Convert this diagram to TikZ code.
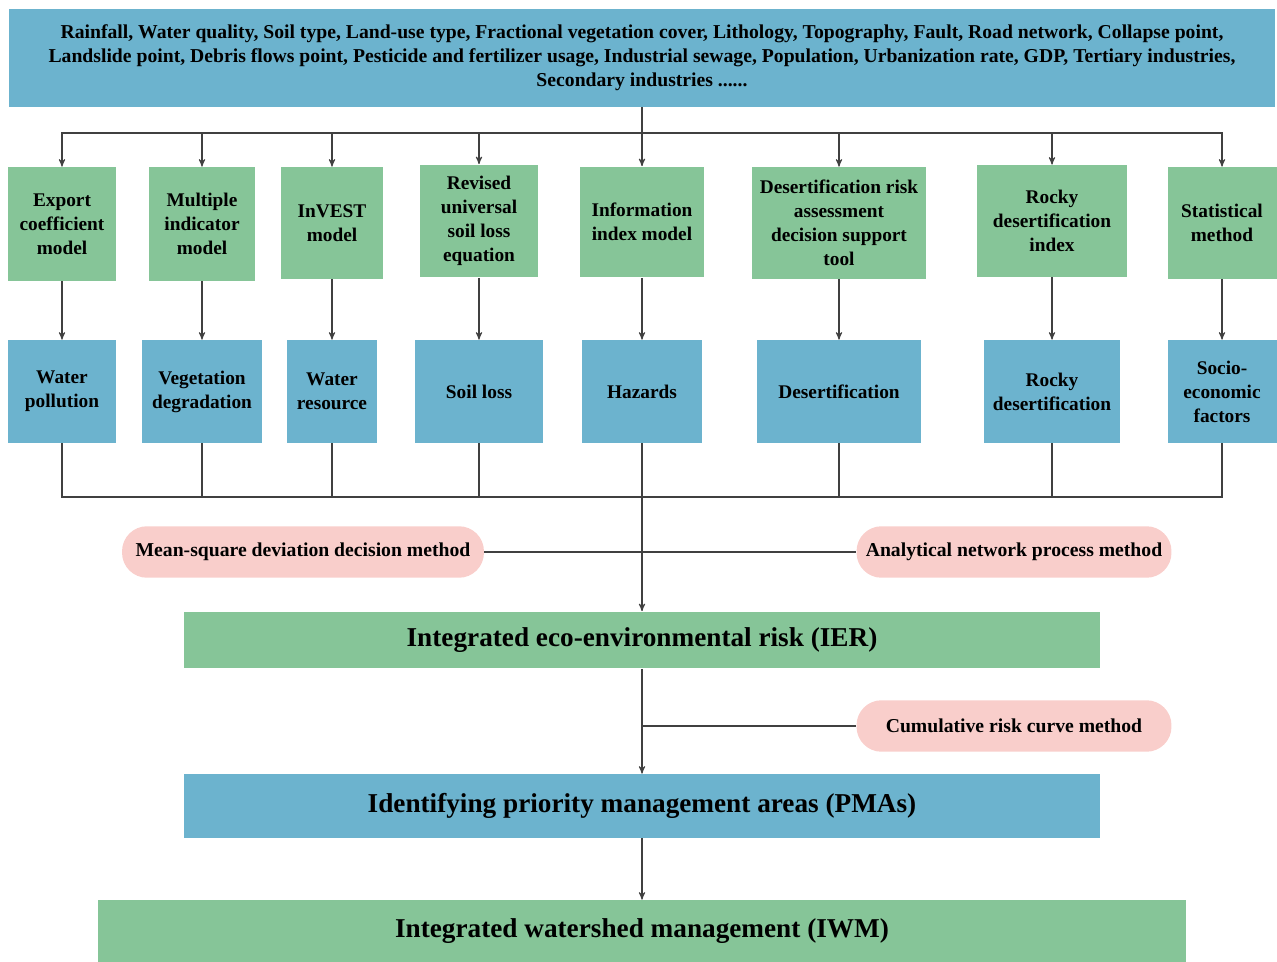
\documentclass[tikz,border=0pt]{standalone}
\usepackage{fontspec}
\setmainfont{Liberation Serif}
\usetikzlibrary{arrows,shapes,positioning,calc}
\definecolor{boxblue}{RGB}{108,179,206}
\definecolor{boxgreen}{RGB}{134,197,152}
\definecolor{boxpink}{RGB}{249,206,203}
\tikzset{
    model/.style={
        rectangle,
        fill=boxgreen,
        align=center,
        inner sep=1pt,
        font=\bfseries\fontsize{11}{13.6}\selectfont,
    },
    risk/.style={
        rectangle,
        fill=boxblue,
        align=center,
        inner sep=1pt,
        minimum height=2.06cm,
        font=\bfseries\fontsize{11}{13.6}\selectfont,
    },
    method/.style={
        rectangle,
        rounded corners=0.5cm,
        fill=boxpink,
        align=center,
        minimum height=1.03cm,
        font=\bfseries\fontsize{11.2}{13}\selectfont,
    },
    stage/.style={
        rectangle,
        align=center,
        font=\bfseries\fontsize{15.5}{18}\selectfont,
    },
    link/.style={
        draw=black!75,
        line width=0.6pt,
    },
}

\begin{document}
\begin{tikzpicture}[x=0.02cm,y=-0.02cm,>=stealth']
    \useasboundingbox (0,0) rectangle (1277,962);
    % input data
    \node [rectangle, fill=boxblue, align=center, minimum width=25.34cm, minimum height=1.96cm,
        font=\bfseries\fontsize{11.2}{13.6}\selectfont] (data) at (642,58)
        {Rainfall, Water quality, Soil type, Land-use type, Fractional vegetation cover, Lithology, Topography, Fault, Road network, Collapse point,\\
         Landslide point, Debris flows point, Pesticide and fertilizer usage, Industrial sewage, Population, Urbanization rate, GDP, Tertiary industries,\\
         Secondary industries ......};
    % models
    \node [model, minimum width=2.16cm, minimum height=2.28cm] (m1) at (62,224) {Export\\coefficient\\model};
    \node [model, minimum width=2.14cm, minimum height=2.28cm] (m2) at (202,224) {Multiple\\indicator\\model};
    \node [model, minimum width=2.04cm, minimum height=2.24cm] (m3) at (332,223) {InVEST\\model};
    \node [model, minimum width=2.36cm, minimum height=2.26cm] (m4) at (479,221) {Revised\\universal\\soil loss\\equation};
    \node [model, minimum width=2.50cm, minimum height=2.22cm] (m5) at (642,222) {Information\\index model};
    \node [model, minimum width=3.50cm, minimum height=2.24cm] (m6) at (839,223) {Desertification risk\\assessment\\decision support\\tool};
    \node [model, minimum width=3.00cm, minimum height=2.24cm] (m7) at (1052,221) {Rocky\\desertification\\index};
    \node [model, minimum width=2.18cm, minimum height=2.24cm] (m8) at (1222,223) {Statistical\\method};
    % risks
    \node [risk, minimum width=2.16cm] (r1) at (62,391.5) {Water\\pollution};
    \node [risk, minimum width=2.40cm] (r2) at (202,391.5) {Vegetation\\degradation};
    \node [risk, minimum width=1.80cm] (r3) at (332,391.5) {Water\\resource};
    \node [risk, minimum width=2.58cm] (r4) at (479,391.5) {Soil loss};
    \node [risk, minimum width=2.40cm] (r5) at (642,391.5) {Hazards};
    \node [risk, minimum width=3.28cm] (r6) at (839,391.5) {Desertification};
    \node [risk, minimum width=2.72cm] (r7) at (1052,391.5) {Rocky\\desertification};
    \node [risk, minimum width=2.18cm] (r8) at (1222,391.5) {Socio-\\economic\\factors};
    % weighting methods
    \node [method, minimum width=7.24cm] (msd) at (303,552) {Mean-square deviation decision method};
    \node [method, minimum width=6.30cm] (anp) at (1014,552) {Analytical network process method};
    \node [method, minimum width=6.30cm] (crc) at (1014,726) {Cumulative risk curve method};
    % results
    \node [stage, fill=boxgreen, minimum width=18.32cm, minimum height=1.14cm] (ier) at (642,640) {Integrated eco-environmental risk (IER)};
    \node [stage, fill=boxblue, minimum width=18.32cm, minimum height=1.28cm] (pma) at (642,806) {Identifying priority management areas (PMAs)};
    \node [stage, fill=boxgreen, minimum width=21.78cm, minimum height=1.24cm] (iwm) at (642,931) {Integrated watershed management (IWM)};

    \coordinate (split) at (642,133);
    \coordinate (join) at (642,497);

    \draw [link] (data.south) -- (split);
    \foreach \m in {m1,m2,m3,m4,m5,m6,m7,m8}
        \draw [link,->] (split) -| (\m.north);
    \draw [link,->] (m1) -- (r1);
    \draw [link,->] (m2) -- (r2);
    \draw [link,->] (m3) -- (r3);
    \draw [link,->] (m4) -- (r4);
    \draw [link,->] (m5) -- (r5);
    \draw [link,->] (m6) -- (r6);
    \draw [link,->] (m7) -- (r7);
    \draw [link,->] (m8) -- (r8);
    \foreach \r in {r1,r2,r3,r4,r5,r6,r7,r8}
        \draw [link] (\r.south) |- (join);
    \draw [link,->] (join) -- (ier.north);
    \draw [link] (msd.east) -- (anp.west);
    \draw [link,->] (ier.south) -- (pma.north);
    \draw [link] (crc.west) -- (crc.west -| ier.south);
    \draw [link,->] (pma.south) -- (iwm.north);
\end{tikzpicture}
\end{document}
